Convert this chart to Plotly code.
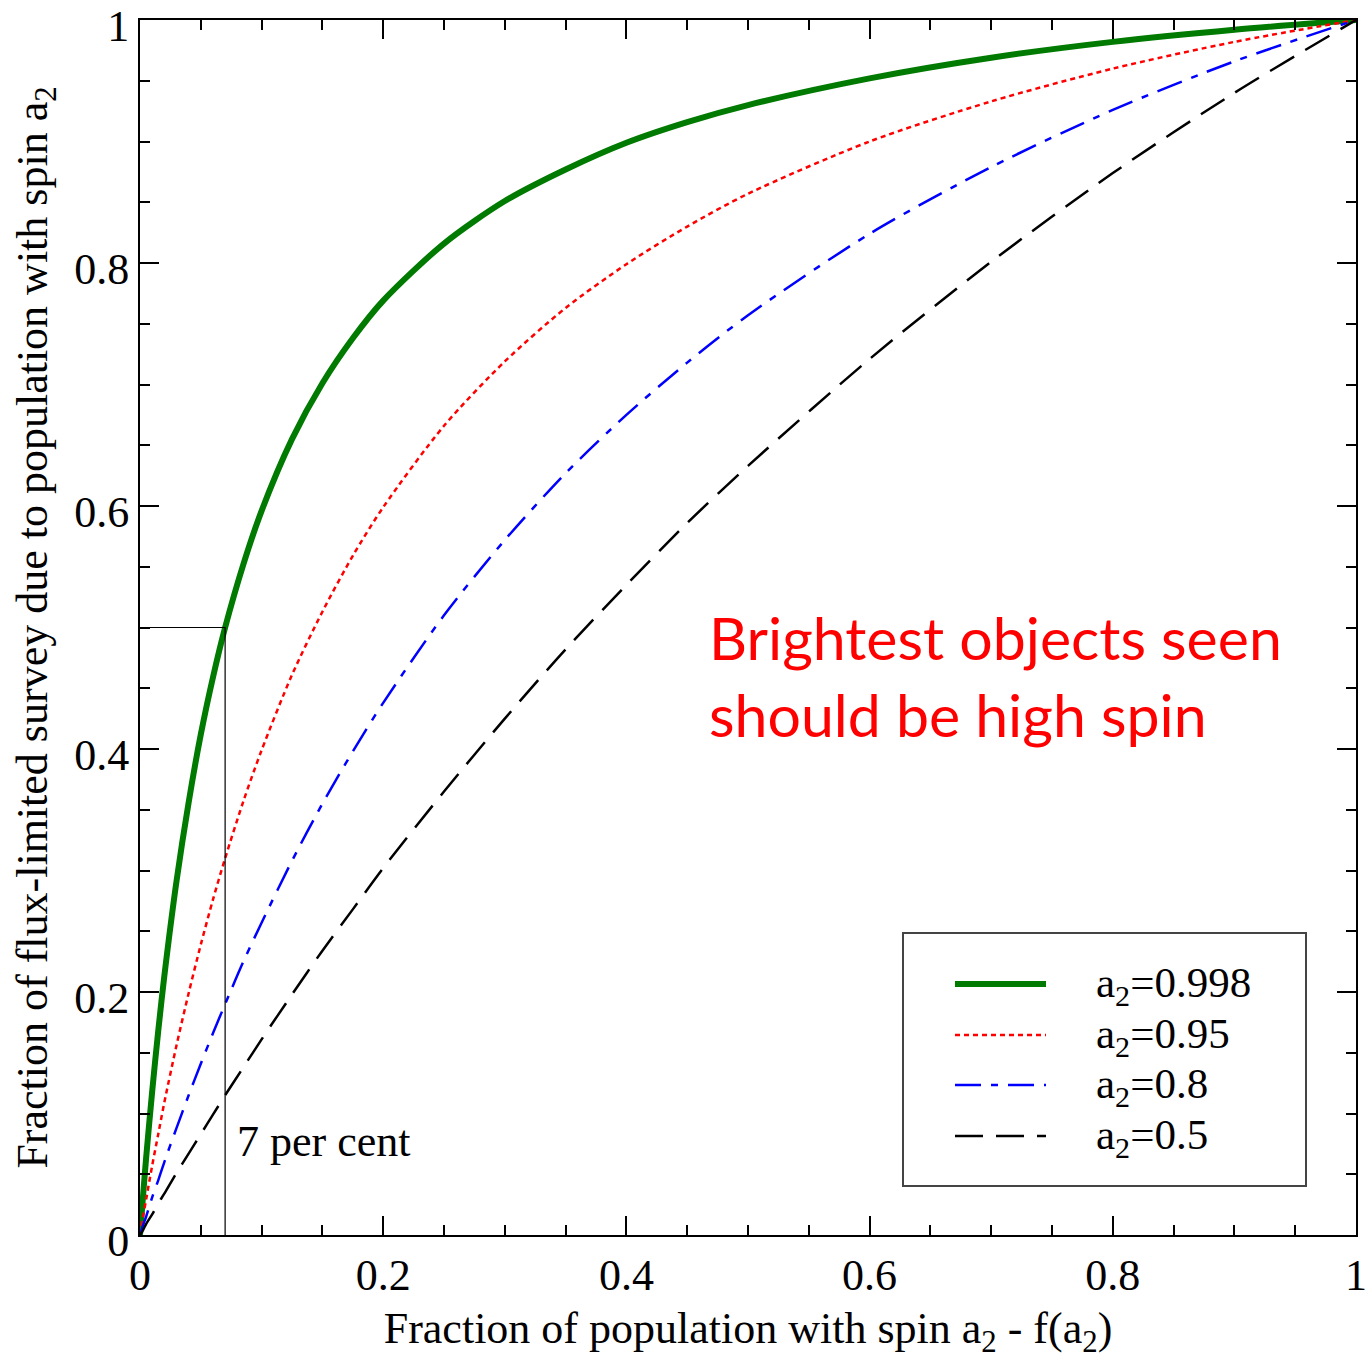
import plotly.graph_objects as go

# Fraction of population (x) -- shared by all curves
x_vals = [0, 0.0025, 0.005, 0.01, 0.015, 0.02, 0.03, 0.04, 0.05, 0.06, 0.07, 0.085, 0.1,
          0.125, 0.15, 0.175, 0.2, 0.25, 0.3, 0.35, 0.4, 0.45, 0.5, 0.6, 0.7, 0.8, 0.9, 1.0]

# Fraction of flux-limited survey (y) for each spin
y_a0998 = [0, 0.032, 0.063, 0.118, 0.168, 0.213, 0.291, 0.356, 0.412, 0.459, 0.500, 0.552, 0.596,
           0.655, 0.701, 0.738, 0.769, 0.816, 0.851, 0.877, 0.899, 0.916, 0.930, 0.952, 0.969, 0.982, 0.992, 1.0]
y_a095 = [0, 0.015, 0.029, 0.057, 0.083, 0.109, 0.156, 0.199, 0.239, 0.276, 0.310, 0.357, 0.399,
          0.461, 0.513, 0.559, 0.599, 0.666, 0.719, 0.763, 0.799, 0.830, 0.857, 0.900, 0.933, 0.960, 0.982, 1.0]
y_a08 = [0, 0.008, 0.015, 0.031, 0.045, 0.060, 0.088, 0.115, 0.141, 0.166, 0.190, 0.225, 0.257,
         0.308, 0.355, 0.398, 0.438, 0.510, 0.572, 0.627, 0.675, 0.718, 0.757, 0.824, 0.879, 0.926, 0.966, 1.0]
y_a05 = [0, 0.004, 0.009, 0.017, 0.026, 0.034, 0.051, 0.067, 0.083, 0.099, 0.115, 0.138, 0.161,
         0.198, 0.234, 0.268, 0.302, 0.365, 0.425, 0.482, 0.535, 0.586, 0.633, 0.721, 0.801, 0.874, 0.940, 1.0]

series_labels = ["a<sub>2</sub>=0.998", "a<sub>2</sub>=0.95", "a<sub>2</sub>=0.8", "a<sub>2</sub>=0.5"]
series_y = [y_a0998, y_a095, y_a08, y_a05]
colors = ["#007a00", "#ff0000", "#0000ff", "#000000"]
widths = [6, 2.5, 2.5, 2.5]
dashes = ["solid", "5px,4px", "26px,10px,7px,10px", "28px,13px"]

marker_x = 0.07
marker_y = 0.5

tick_vals = [0, 0.2, 0.4, 0.6, 0.8, 1.0]
tick_text = ["0", "0.2", "0.4", "0.6", "0.8", "1"]

SERIF = "Liberation Serif, Times New Roman, serif"

fig = go.Figure()

for lab, ys, c, w, d in zip(series_labels, series_y, colors, widths, dashes):
    fig.add_trace(go.Scatter(x=x_vals, y=ys, mode="lines", name=lab,
                             line=dict(color=c, width=w, dash=d, shape="spline", smoothing=0.8),
                             showlegend=False))

# guide lines for "7 per cent"
fig.add_trace(go.Scatter(x=[0, marker_x, marker_x], y=[marker_y, marker_y, 0], mode="lines",
                         line=dict(color="black", width=1.2), showlegend=False))

fig.add_annotation(x=marker_x + 0.008, y=0.077, xref="x", yref="y", text="7 per cent",
                   showarrow=False, xanchor="left", yanchor="middle",
                   font=dict(family=SERIF, size=44, color="black"))

fig.add_annotation(x=0.466, y=0.46, xref="x", yref="y",
                   text="Brightest objects seen<br>should be high spin",
                   showarrow=False, xanchor="left", yanchor="middle", align="left",
                   font=dict(family="Lato, Open Sans, sans-serif", size=59, color="#ff0000"))

# manual legend (paper coordinates)
px0, px1 = 140, 1356
py0, py1 = 20, 1235
W, H = 1366, 1359
def px(xp):
    return (xp - px0) / (px1 - px0)
def py(yp):
    return (py1 - yp) / (py1 - py0)

fig.add_shape(type="rect", xref="paper", yref="paper",
              x0=px(903), x1=px(1306), y0=py(1186), y1=py(933),
              line=dict(color="#444444", width=2), fillcolor="white", layer="above")
row_y = [984, 1035, 1085, 1136]
for lab, c, w, d, ry in zip(series_labels, colors, widths, dashes, row_y):
    fig.add_shape(type="line", xref="paper", yref="paper",
                  x0=px(955), x1=px(1046), y0=py(ry), y1=py(ry),
                  line=dict(color=c, width=w, dash=d), layer="above")
    fig.add_annotation(x=px(1094), y=py(ry + 2), xref="paper", yref="paper", text=lab,
                       showarrow=False, xanchor="left", yanchor="middle",
                       font=dict(family=SERIF, size=43, color="black"))

axis_common = dict(
    range=[0, 1], tickvals=tick_vals, ticktext=tick_text,
    ticks="inside", ticklen=19, tickwidth=1.5, tickcolor="black",
    showline=True, linecolor="black", linewidth=2, mirror="ticks",
    showgrid=False, zeroline=False, automargin=False,
    ticklabeloverflow="allow",
    tickfont=dict(family=SERIF, size=44, color="black"),
    minor=dict(dtick=0.05, ticks="inside", ticklen=10, tickwidth=1.5, tickcolor="black", showgrid=False),
)

fig.update_layout(
    width=W, height=H,
    margin=dict(l=140, r=10, t=20, b=124, autoexpand=False),
    paper_bgcolor="white", plot_bgcolor="white",
    xaxis=dict(**axis_common,
               title=dict(text="Fraction of population with spin a<sub>2</sub> - f(a<sub>2</sub>)",
                          font=dict(family=SERIF, size=44, color="black"), standoff=20)),
    yaxis=dict(**axis_common, ticklabelshift=6,
               title=dict(text="Fraction of flux-limited survey due to population with spin a<sub>2</sub>",
                          font=dict(family=SERIF, size=44, color="black"), standoff=13)),
)

fig.write_html("out.html")
